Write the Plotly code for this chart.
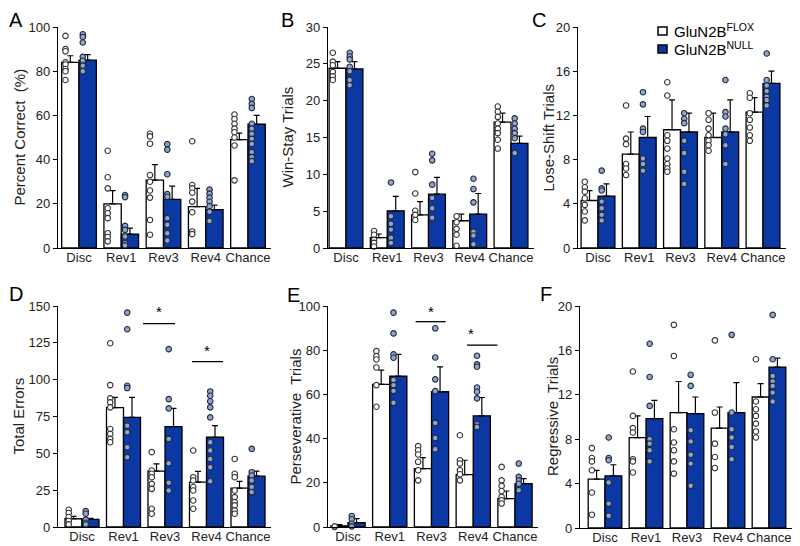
import plotly.graph_objects as go

categories = ["Disc", "Rev1", "Rev3", "Rev4", "Chance"]

# ---------------- Panel A: Percent Correct (%) ----------------
a_flox_mean = [84, 20, 30.7, 18.7, 49]
a_flox_sem = [3, 6, 7, 8.3, 3]
a_null_mean = [85, 6.3, 22, 17.4, 56]
a_null_sem = [2.5, 2.7, 6, 2.0, 4]
a_flox_dots = [[96, 90, 89, 84, 83, 81, 80, 76],
               [44, 32, 27, 18, 15.7, 13.5, 6.7, 5, 3],
               [51.7, 50.5, 47.2, 33, 30, 26, 22.8, 12.7, 6],
               [48.3, 28.5, 27, 25, 21, 16.2, 7.5, 6.3],
               [60.4, 58.4, 56.2, 54, 52.4, 50, 46.4, 30.6]]
a_null_dots = [[96.7, 95.5, 93, 86.5, 84.7, 82.5, 80],
               [24, 23, 10, 8.2, 5.2, 2.2, 1.2],
               [47, 44.5, 33.4, 24.4, 23.2, 13.5, 10.5, 6.7, 3.4],
               [26.4, 24.6, 22.8, 20.9, 18.9, 16.4, 12.2],
               [67.4, 65.2, 63.4, 56.2, 54, 51.6, 49.4, 47.1, 43.4, 41.1, 39.3]]

# ---------------- Panel B: Win-Stay Trials ----------------
b_flox_mean = [24.4, 1.4, 4.5, 3.7, 17.1]
b_flox_sem = [0.9, 0.5, 1.8, 0.9, 1.2]
b_null_mean = [24.3, 5.05, 7.3, 4.6, 14.2]
b_null_sem = [1.0, 1.95, 2.3, 2.8, 1.0]
b_flox_dots = [[26.5, 25.3, 24.8, 23.9, 23.3, 22.8],
               [2.3, 1.8, 1.1, 0.7, 0.2],
               [10.3, 7.4, 5.05, 4.5, 3.8],
               [4.3, 3.5, 2.6, 1.8, 0.3],
               [19.2, 18.5, 17.8, 16.9, 16.2, 15.6, 14.7, 13.5]]
b_null_dots = [[26.5, 26, 25.6, 24.6, 24, 22.8, 22.1],
               [8.9, 4.3, 3.3, 2.5, 1.4, 0.7],
               [12.8, 11.9, 8.6, 6.8, 5.4, 4.1],
               [9.4, 8, 6.2, 2.2, 1.7, 0.5],
               [17.6, 16.9, 16.2, 15.6, 14.9, 12.9]]

# ---------------- Panel C: Lose-Shift Trials ----------------
c_flox_mean = [4.3, 8.5, 10.7, 10.0, 12.3]
c_flox_sem = [0.9, 2.0, 2.7, 2.2, 1.3]
c_null_mean = [4.7, 10.0, 10.5, 10.5, 14.9]
c_null_sem = [1.1, 1.9, 1.7, 2.9, 1.1]
c_flox_dots = [[6.0, 5.5, 5.1, 4.5, 3.9, 3.3, 2.5],
               [12.9, 9.9, 9.4, 7.6, 7.2, 6.6],
               [15.0, 13.8, 10.2, 9.7, 9.0, 8.1, 7.6, 7.2, 6.9],
               [12.2, 11.6, 10.8, 10.2, 9.7, 9.3, 8.8],
               [14.0, 13.6, 12.2, 11.6, 10.9, 10.2, 9.7]]
c_null_dots = [[7.0, 5.4, 5.2, 4.2, 3.6, 3.0, 2.5],
               [14.1, 13.0, 10.8, 10.5, 8.1, 7.6, 7.0],
               [12.2, 11.7, 11.3, 9.7, 8.6, 6.9, 5.8],
               [15.2, 12.3, 11.9, 10.8, 10.3, 9.3, 7.6],
               [17.6, 15.2, 14.7, 14.2, 13.7, 13.4, 12.9]]

# ---------------- Panel D: Total Errors ----------------
d_flox_mean = [5.6, 81, 37.9, 30.5, 26.4]
d_flox_sem = [1.6, 7, 5, 7.2, 4.5]
d_null_mean = [5.2, 74.4, 68.1, 60.9, 34.5]
d_null_sem = [0.6, 13.6, 12.4, 7.9, 3.4]
d_flox_dots = [[11.7, 9.5, 6.8, 4.1, 1.8],
               [124.7, 96.3, 87.3, 84.6, 81.2, 66.5, 63.2, 59.8, 57.5],
               [50.8, 38.3, 36.1, 33.8, 29.3, 25.9, 12.4, 9.0],
               [51.9, 33.8, 31.6, 27.1, 24.8, 18.0, 12.4],
               [46.2, 36.1, 33.8, 24.8, 20.3, 16.9, 14.7, 11.3, 9.0]]
d_null_dots = [[10.8, 9.0, 5.0, 2.9, 1.8],
               [145.5, 134.2, 95.9, 94.3, 68.8, 64.3, 54.1, 47.4],
               [120.7, 86.8, 80.5, 59.8, 43.3, 30.0, 24.8],
               [92.0, 89.1, 85.3, 81.2, 74.4, 57.5, 51.9, 46.2, 40.6, 31.1],
               [53.0, 37.2, 35.0, 31.6, 27.1, 23.7]]

# ---------------- Panel E: Perseverative Trials ----------------
e_flox_mean = [0.5, 64.5, 26.4, 23.7, 12.8]
e_flox_sem = [0.6, 6.5, 5.0, 6.5, 3.5]
e_null_mean = [2.0, 68.3, 61.2, 50.3, 19.6]
e_null_sem = [1.8, 9.8, 11.3, 8.3, 2.3]
e_flox_dots = [[0, 0.3],
               [79.6, 77.3, 75.8, 72.2, 64.2, 54.4],
               [36.6, 34.7, 32.8, 29.5, 25.7, 21.1],
               [41.5, 30.2, 28.7, 25.7, 23.9, 21.1],
               [27.2, 21.1, 18.6, 16.3, 13.6, 12.1, 10.6]]
e_null_dots = [[5.0, 3.5, 1.5, 0.3],
               [97.0, 87.6, 78.1, 76.6, 66.5, 64.2, 61.6, 56.2],
               [89.9, 76.7, 66.8, 61.5, 47.1, 40.3, 35.2],
               [77.5, 73.6, 72.5, 63.1, 61.2, 58.2, 46.5, 45.3],
               [28.7, 22.7, 21.1, 19.6, 16.6]]

# ---------------- Panel F: Regressive Trials ----------------
f_flox_mean = [4.4, 8.15, 10.4, 9.0, 11.8]
f_flox_sem = [0.8, 1.95, 2.8, 1.9, 1.2]
f_null_mean = [4.7, 9.85, 10.3, 10.4, 14.5]
f_null_sem = [1.0, 1.65, 1.5, 2.7, 0.8]
f_flox_dots = [[7.2, 6.3, 6.0, 5.2, 3.2, 1.2],
               [14.1, 10.1, 9.0, 8.6, 6.2, 6.0, 5.0],
               [18.3, 15.5, 8.9, 7.7, 7.0, 6.0, 4.9],
               [16.9, 10.4, 7.6, 6.4, 5.4],
               [15.2, 11.4, 10.7, 10.1, 9.4, 8.7, 8.15]]
f_null_dots = [[8.15, 6.3, 6.1, 4.1, 2.2, 1.1],
               [16.6, 13.6, 11.0, 8.0, 7.6, 7.0, 6.0],
               [13.8, 12.8, 8.8, 7.8, 6.6, 5.8, 3.8],
               [17.4, 10.4, 8.9, 8.15, 7.3, 6.2],
               [19.2, 15.2, 13.7, 13.2, 12.8, 12.2, 11.4]]

y_titles = ["Percent Correct  (%)", "Win-Stay Trials", "Lose-Shift Trials",
            "Total Errors", "Perseverative  Trials", "Regressive  Trials"]
panel_letters = ["A", "B", "C", "D", "E", "F"]
y_max = [100, 30, 20, 150, 100, 20]
y_dtick = [20, 5, 4, 25, 20, 4]

# significance markers (category position, y value)
sig_lines = {3: [(1.47, 2.24, 138), (2.65, 3.40, 112.3)],
             4: [(1.62, 2.34, 92.9), (2.85, 3.58, 82.3)]}
sig_stars = {3: [(1.86, 146), (3.01, 119.5)],
             4: [(1.99, 97.5), (2.95, 87.5)]}

panels = [
    (a_flox_mean, a_flox_sem, a_null_mean, a_null_sem, a_flox_dots, a_null_dots),
    (b_flox_mean, b_flox_sem, b_null_mean, b_null_sem, b_flox_dots, b_null_dots),
    (c_flox_mean, c_flox_sem, c_null_mean, c_null_sem, c_flox_dots, c_null_dots),
    (d_flox_mean, d_flox_sem, d_null_mean, d_null_sem, d_flox_dots, d_null_dots),
    (e_flox_mean, e_flox_sem, e_null_mean, e_null_sem, e_flox_dots, e_null_dots),
    (f_flox_mean, f_flox_sem, f_null_mean, f_null_sem, f_flox_dots, f_null_dots),
]

# ---------------- layout geometry (page pixels) ----------------
PAGE_W, PAGE_H = 800, 546
PAD = 8                      # default body margin of the html page
W, H = PAGE_W - PAD, PAGE_H - PAD


def px_x(v):
    return (v - PAD) / W


def px_y(v):
    return 1 - (v - PAD) / H


# (y-axis x position, first category center, last category center)
x_geom = [(58, 79, 248), (328, 346, 511), (578, 598, 763),
          (58, 82, 248), (328, 348, 515), (580, 605, 769)]
# (pixel of y=0, pixel of y=max)
y_geom = [(248, 27), (248, 27), (248, 27), (527, 306), (527, 306), (528, 306)]
title_x = [19, 287, 548, 18, 295, 552]
letter_pos = [(8, 8), (280, 8), (531, 8), (8, 282), (286, 283), (539, 282)]

BLUE = "#0b38a3"
FONT = "Arial, Liberation Sans, sans-serif"
BW = 0.41   # bar width in category units
DO = 0.09   # dot offset from bar left edge

fig = go.Figure()
layout = dict(width=W, height=H, margin=dict(l=0, r=0, t=0, b=0, autoexpand=False),
              paper_bgcolor="white", plot_bgcolor="white", showlegend=False,
              font=dict(family=FONT, color="#222"), annotations=[], shapes=[])

for p, (fm, fs, nm, ns, fd, nd) in enumerate(panels):
    k = p + 1
    xa = "x" if k == 1 else f"x{k}"
    ya = "y" if k == 1 else f"y{k}"
    xs = list(range(len(categories)))
    fig.add_trace(go.Bar(x=xs, y=fm, offset=-BW, width=BW, xaxis=xa, yaxis=ya,
                         marker=dict(color="white", line=dict(color="black", width=1.3)),
                         error_y=dict(type="data", array=fs, arrayminus=[0] * 5, symmetric=False,
                                      color="black", thickness=1.2, width=3)))
    fig.add_trace(go.Bar(x=xs, y=nm, offset=0, width=BW, xaxis=xa, yaxis=ya,
                         marker=dict(color=BLUE, line=dict(color="black", width=1.3)),
                         error_y=dict(type="data", array=ns, arrayminus=[0] * 5, symmetric=False,
                                      color="black", thickness=1.2, width=3)))
    fx, fy, nx, ny = [], [], [], []
    for i in xs:
        for v in fd[i]:
            fx.append(i - BW + DO)
            fy.append(v)
        for v in nd[i]:
            nx.append(i + DO)
            ny.append(v)
    fig.add_trace(go.Scatter(x=fx, y=fy, mode="markers", xaxis=xa, yaxis=ya, cliponaxis=False,
                             marker=dict(size=5.5, color="white", line=dict(color="#333", width=1.1))))
    fig.add_trace(go.Scatter(x=nx, y=ny, mode="markers", xaxis=xa, yaxis=ya, cliponaxis=False,
                             marker=dict(size=5.5, color="#93a6c8", line=dict(color="#1e2a44", width=1.1))))

    ax_px, c0, c4 = x_geom[p]
    s = (c4 - c0) / 4
    x_lo = -(c0 - ax_px) / s
    x_hi = 4.55
    right_px = c4 + 0.55 * s
    y0_px, y1_px = y_geom[p]
    layout["xaxis" + ("" if k == 1 else str(k))] = dict(
        domain=[px_x(ax_px), px_x(right_px)], range=[x_lo, x_hi], anchor=ya,
        tickvals=xs, ticktext=categories, ticks="", showline=True, linecolor="black",
        linewidth=1.2, showgrid=False, zeroline=False, fixedrange=True, automargin=False,
        ticklabelstandoff=-3, tickfont=dict(size=13, color="#222"))
    layout["yaxis" + ("" if k == 1 else str(k))] = dict(
        domain=[px_y(y0_px), px_y(y1_px)], range=[0, y_max[p]], anchor=xa,
        dtick=y_dtick[p], ticks="outside", ticklen=4, tickcolor="black", automargin=False,
        showline=True, linecolor="black", linewidth=1.2, showgrid=False, zeroline=False,
        tickfont=dict(size=13, color="#222"))
    # y-axis title
    layout["annotations"].append(dict(
        text=y_titles[p], textangle=-90, xref="paper", yref="paper",
        x=px_x(title_x[p]), y=px_y((y0_px + y1_px) / 2), xanchor="center", yanchor="middle",
        showarrow=False, font=dict(size=15, color="#222")))
    # panel letter
    lx, ly = letter_pos[p]
    layout["annotations"].append(dict(
        text=panel_letters[p], xref="paper", yref="paper", x=px_x(lx), y=px_y(ly),
        xanchor="left", yanchor="top", showarrow=False, borderpad=0,
        font=dict(size=20, color="black")))
    for (x0, x1, yv) in sig_lines.get(p, []):
        layout["shapes"].append(dict(type="line", xref=xa, yref=ya, x0=x0, x1=x1, y0=yv, y1=yv,
                                     line=dict(color="black", width=1.3)))
    for (xv, yv) in sig_stars.get(p, []):
        layout["annotations"].append(dict(text="*", xref=xa, yref=ya, x=xv, y=yv,
                                          showarrow=False, font=dict(size=15, color="black")))

# legend (drawn as squares + text)
legend_items = [("GluN2B<sup>FLOX</sup>", "white", 31), ("GluN2B<sup>NULL</sup>", BLUE, 49)]
for label, col, cy in legend_items:
    layout["shapes"].append(dict(type="rect", xref="paper", yref="paper",
                                 x0=px_x(658), x1=px_x(667), y0=px_y(cy + 4), y1=px_y(cy - 4),
                                 fillcolor=col, line=dict(color="black", width=1.5)))
    layout["annotations"].append(dict(text=label, xref="paper", yref="paper", x=px_x(672),
                                      y=px_y(cy), xanchor="left", yanchor="middle",
                                      showarrow=False, font=dict(size=15, color="black")))

fig.update_layout(**layout)
fig.write_html("out.html")
